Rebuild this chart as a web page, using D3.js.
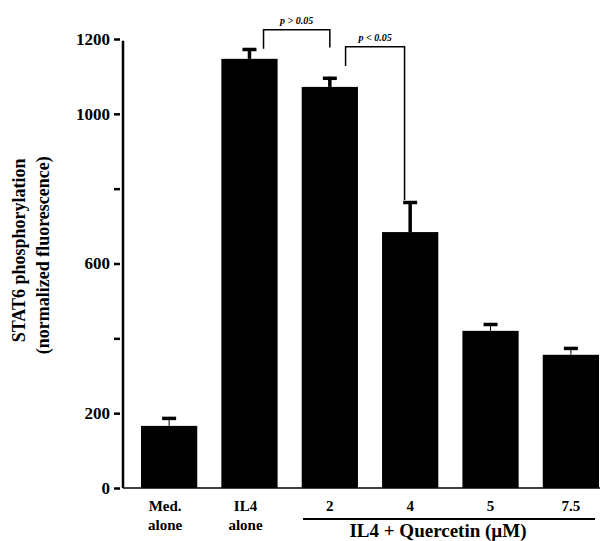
<!DOCTYPE html>
<html>
<head>
<meta charset="utf-8">
<script src="https://cdn.jsdelivr.net/npm/d3@7"></script>
<style>
  body { margin: 0; background: #fff; }
  svg text { font-family: "Liberation Serif", "DejaVu Serif", serif; font-weight: bold; fill: #000; }
</style>
</head>
<body>
<div id="chart"></div>
<script>
// Chart data
const categories = ["Med. alone", "IL4 alone", "2", "4", "5", "7.5"];
const values = [166, 1147, 1072, 684, 420, 356];
const errors = [24, 29, 27, 83, 21, 21];
const tickValues = [0, 200, 400, 600, 800, 1000, 1200];
const tickLabels = ["0", "200", "", "600", "", "1000", "1200"];

// Significance brackets: from/to category, bracket top, left and right ends (data units)
const brackets = [
  { from: "IL4 alone", to: "2", top: 1225, leftEnd: 1174, rightEnd: 1177, label: "p > 0.05", fx: 0.75, tx: 0.5 },
  { from: "2", to: "4", top: 1179, leftEnd: 1128, rightEnd: 770, label: "p < 0.05", fx: 0.78, tx: 0.4 }
];

const width = 601, height = 541;

const svg = d3.select("#chart")
  .append("svg")
  .attr("width", width)
  .attr("height", height);

// Scales
const x = d3.scaleBand()
  .domain(categories)
  .range([123, 617])
  .paddingInner(0.3)
  .paddingOuter(0.224);

const y = d3.scaleLinear()
  .domain([0, 1200])
  .range([488, 39]);

// Baseline
svg.append("line")
  .attr("x1", 123).attr("x2", 600)
  .attr("y1", y(0)).attr("y2", y(0))
  .attr("stroke", "#000").attr("stroke-width", 1.5);

// Bars
svg.selectAll(".bar")
  .data(categories.map((c, i) => ({ cat: c, value: values[i], err: errors[i] })))
  .enter()
  .append("rect")
  .attr("class", "bar")
  .attr("x", (d) => x(d.cat))
  .attr("width", x.bandwidth())
  .attr("y", (d) => y(d.value))
  .attr("height", (d) => y(0) - y(d.value))
  .attr("fill", "#000");

// Error bars (T shape)
const errG = svg.append("g");
categories.forEach((c, i) => {
  const cx = x(c) + x.bandwidth() / 2;
  const top = y(values[i] + errors[i]);
  errG.append("line")
    .attr("x1", cx).attr("x2", cx)
    .attr("y1", y(values[i])).attr("y2", top)
    .attr("stroke", "#000").attr("stroke-width", errors[i] > 25 ? 3.5 : 1);
  errG.append("line")
    .attr("x1", cx - 7).attr("x2", cx + 7)
    .attr("y1", top + 1.5).attr("y2", top + 1.5)
    .attr("stroke", "#000").attr("stroke-width", 3.5);
});

// Y axis
const yAxis = svg.append("g")
  .attr("transform", "translate(123,0)")
  .call(d3.axisLeft(y).tickValues(tickValues).tickSize(9).tickPadding(4)
    .tickFormat((d, i) => tickLabels[i]));
yAxis.select(".domain").attr("stroke-width", 2.5).attr("d", `M0,${y(1195)}V${y(0)}`);
yAxis.selectAll(".tick line").attr("stroke-width", 2.5).attr("x2", -9).attr("x1", -3);
yAxis.selectAll(".tick text")
  .attr("font-family", "Liberation Serif")
  .attr("font-weight", "bold")
  .attr("font-size", 17);

// Y label
svg.append("text")
  .attr("transform", `translate(25,${y(635)}) rotate(-90)`)
  .attr("text-anchor", "middle")
  .attr("font-size", 18)
  .text("STAT6 phosphorylation");
svg.append("text")
  .attr("transform", `translate(49,${y(622)}) rotate(-90)`)
  .attr("text-anchor", "middle")
  .attr("font-size", 18)
  .text("(normalized fluorescence)");

// Category labels
const twoLine = { "Med. alone": ["Med.", "alone"], "IL4 alone": ["IL4", "alone"] };
categories.forEach((c) => {
  const cx = x(c) + x.bandwidth() / 2;
  const lines = twoLine[c] || [c];
  lines.forEach((t, j) => {
    svg.append("text")
      .attr("x", cx - (twoLine[c] ? 4 : 0))
      .attr("y", 511 + j * 19)
      .attr("text-anchor", "middle")
      .attr("font-size", 15)
      .text(t);
  });
});

// Group underline and label
svg.append("line")
  .attr("x1", 303).attr("x2", 595)
  .attr("y1", 519).attr("y2", 519)
  .attr("stroke", "#000").attr("stroke-width", 2);
svg.append("text")
  .attr("x", 438)
  .attr("y", 537)
  .attr("text-anchor", "middle")
  .attr("font-size", 19)
  .text("IL4 + Quercetin (\u00b5M)");

// Significance brackets
brackets.forEach((b) => {
  const x1 = x(b.from) + x.bandwidth() * b.fx;
  const x2 = x(b.to) + x.bandwidth() * b.tx;
  svg.append("path")
    .attr("d", `M${x1},${y(b.leftEnd)}V${y(b.top)}H${x2}V${y(b.rightEnd)}`)
    .attr("fill", "none")
    .attr("stroke", "#000")
    .attr("stroke-width", 1.5);
  svg.append("text")
    .attr("x", (x1 + x2) / 2)
    .attr("y", y(b.top) - 6)
    .attr("text-anchor", "middle")
    .attr("font-size", 10)
    .attr("font-style", "italic")
    .text(b.label);
});
</script>
</body>
</html>
